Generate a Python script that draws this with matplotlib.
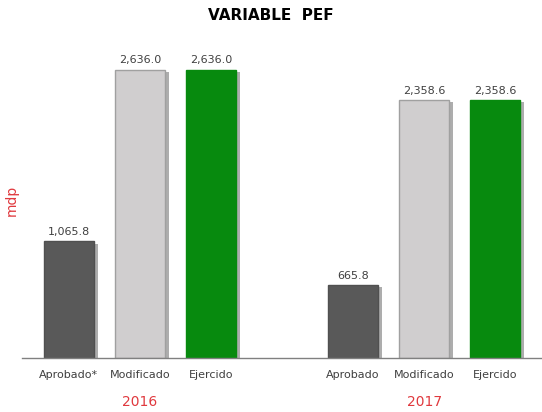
import matplotlib.pyplot as plt
import matplotlib.patheffects as pe

# Data
years = ["2016", "2017"]
categories = [["Aprobado*", "Modificado", "Ejercido"],
              ["Aprobado", "Modificado", "Ejercido"]]
values = [[1065.8, 2636.0, 2636.0],
          [665.8, 2358.6, 2358.6]]
colors = ["#595959", "#D0CECF", "#078A0E"]
edges = ["#505050", "#A0A0A0", "#078A0E"]

fig = plt.figure(figsize=(5.42, 4.12), dpi=100)
ax = fig.add_axes([22 / 542, 54 / 412, 520 / 542, 328 / 412])

shadow = [pe.SimplePatchShadow(offset=(3, -1.5), shadow_rgbFace="#8a8a8a", alpha=0.7), pe.Normal()]

for g, year in enumerate(years):
    for i, v in enumerate(values[g]):
        x = g * 4 + i
        b = ax.bar(x, v, width=0.70, color=colors[i], edgecolor=edges[i], linewidth=1.0, zorder=2)
        for p in b:
            p.set_path_effects(shadow)
        ax.text(x, v + 40, "{:,.1f}".format(v), ha="center", va="bottom", fontsize=8, color="#404040")
        ax.text(x, -155, categories[g][i], ha="center", va="center", fontsize=8, color="#404040")
    ax.text(g * 4 + 1, -400, year, ha="center", va="center", fontsize=10, color="#E0393E")

ax.set_xlim(-0.66, 6.66)
ax.set_ylim(0, 3000)
ax.set_xticks([])
ax.set_yticks([])
for s in ["top", "right", "left"]:
    ax.spines[s].set_visible(False)
ax.spines["bottom"].set_color("#808080")
ax.spines["bottom"].set_linewidth(1.0)

fig.text(12 / 542, 1 - 200 / 412, "mdp", rotation=90, ha="center", va="center", fontsize=10, color="#E0393E")
fig.text(0.5, 1 - 16 / 412, "VARIABLE  PEF", ha="center", va="center", fontsize=11, fontweight="bold", color="black")

plt.savefig("out.png", dpi=100)
